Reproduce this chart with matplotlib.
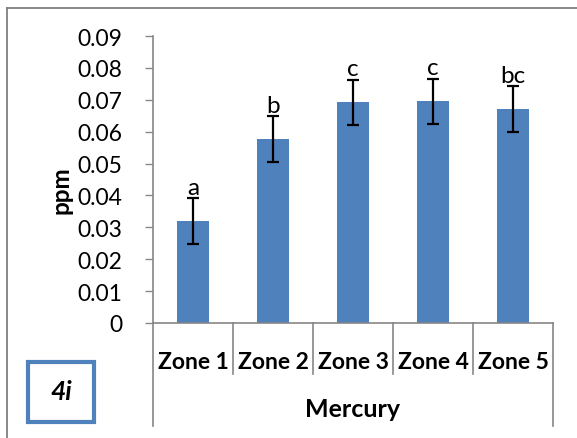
import matplotlib
matplotlib.use("Agg")
import matplotlib.pyplot as plt
from matplotlib.lines import Line2D
from matplotlib.patches import Rectangle

plt.rcParams['font.family'] = ['Lato', 'DejaVu Sans']

categories = ["Zone 1", "Zone 2", "Zone 3", "Zone 4", "Zone 5"]
values = [0.0320, 0.0577, 0.0692, 0.0695, 0.0671]
errors = [0.0071, 0.0071, 0.0071, 0.0071, 0.0071]
letters = ["a", "b", "c", "c", "bc"]
yticks = [0, 0.01, 0.02, 0.03, 0.04, 0.05, 0.06, 0.07, 0.08, 0.09]
ytick_labels = ["0", "0.01", "0.02", "0.03", "0.04", "0.05", "0.06", "0.07", "0.08", "0.09"]

W, H = 577, 439
fig = plt.figure(figsize=(W / 100, H / 100), dpi=100)
L, R, T, B = 153, 553, 37, 324
ax = fig.add_axes([L / W, (H - B) / H, (R - L) / W, (B - T) / H])

bar_color = "#4F81BD"
grey = "#868686"
x = list(range(len(categories)))
ax.bar(x, values, width=0.4, color=bar_color, zorder=2)
ax.errorbar(x, values, yerr=errors, fmt="none", ecolor="black",
            elinewidth=1.6, capsize=4.3, capthick=1.6, zorder=3)
for xi, v, e, s in zip(x, values, errors, letters):
    ax.text(xi, v + e + 0.0002, s, ha="center", va="bottom", fontsize=17.5)

ax.set_xlim(-0.5, len(categories) - 0.5)
ax.set_ylim(0, 0.09)
ax.set_yticks(yticks)
ax.set_yticklabels(ytick_labels, fontsize=16.5)
ax.tick_params(axis="y", direction="out", length=6, width=1, color=grey, pad=16)
ax.set_xticks(x)
ax.set_xticklabels(categories, fontsize=16.5, fontweight="bold")
ax.tick_params(axis="x", length=0, pad=20)

for side in ["top", "right"]:
    ax.spines[side].set_visible(False)
for side in ["left", "bottom"]:
    ax.spines[side].set_color(grey)
    ax.spines[side].set_linewidth(1.2)

# category separator lines below the axis
tr = ax.get_xaxis_transform()
ymin_in = -(375 - B) / (B - T)
ymin_out = -(427 - B) / (B - T)
for i in range(len(categories) + 1):
    xb = i - 0.5
    ylow = ymin_out if i in (0, len(categories)) else ymin_in
    ax.add_line(Line2D([xb, xb], [0, ylow], transform=tr, color=grey,
                       lw=1.2, clip_on=False))

fig.text(353 / W, 1 - 410 / H, "Mercury", ha="center", va="center",
         fontsize=18, fontweight="bold")
fig.text(61 / W, 1 - 190 / H, "ppm", ha="center", va="center",
         rotation=90, fontsize=17.5, fontweight="bold")

# "4i" box
fig.patches.append(Rectangle((28 / W, 1 - 423 / H), 66 / W, 60 / H,
                             transform=fig.transFigure, fill=False,
                             edgecolor=bar_color, lw=3))
fig.text(61 / W, 1 - 392 / H, "4i", ha="center", va="center",
         fontsize=19, fontweight="bold", style="italic")

# outer frame (partially visible)
fig.add_artist(Line2D([7 / W, 7 / W], [0, 1 - 9 / H], transform=fig.transFigure,
                      color="#7F7F7F", lw=1.3))
fig.add_artist(Line2D([7 / W, 1], [1 - 9 / H, 1 - 9 / H], transform=fig.transFigure,
                      color="#7F7F7F", lw=1.3))

fig.savefig("out.png", dpi=100)
